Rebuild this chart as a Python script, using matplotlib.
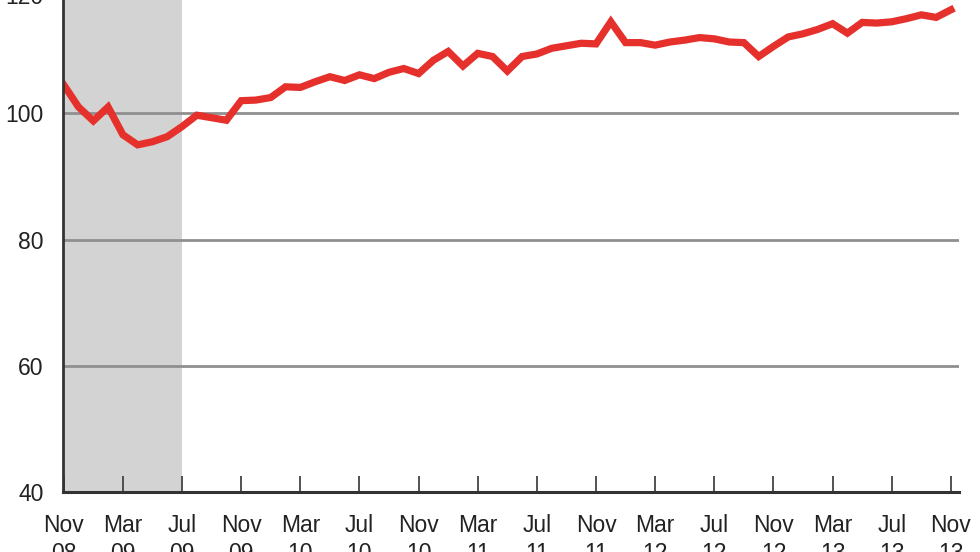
import matplotlib
matplotlib.use("Agg")
import matplotlib.pyplot as plt
import matplotlib.transforms as mtransforms
import numpy as np

# Monthly index values, Nov 2008 .. Nov 2013
values = [104.5, 101.0, 98.8, 101.0, 96.6, 95.0, 95.5, 96.3, 97.9, 99.7,
          99.3, 98.9, 102.0, 102.1, 102.5, 104.2, 104.1, 105.0, 105.8, 105.2,
          106.1, 105.5, 106.5, 107.1, 106.3, 108.4, 109.8, 107.5, 109.5, 109.0,
          106.7, 109.0, 109.4, 110.3, 110.7, 111.1, 111.0, 114.5, 111.2, 111.2,
          110.8, 111.3, 111.6, 112.0, 111.8, 111.3, 111.2, 109.0, 110.6, 112.1,
          112.6, 113.3, 114.2, 112.7, 114.4, 114.3, 114.5, 115.0, 115.6, 115.2,
          116.4]
tick_labels = ["Nov\n08", "Mar\n09", "Jul\n09", "Nov\n09", "Mar\n10", "Jul\n10",
               "Nov\n10", "Mar\n11", "Jul\n11", "Nov\n11", "Mar\n12", "Jul\n12",
               "Nov\n12", "Mar\n13", "Jul\n13", "Nov\n13"]
y_ticks = [40, 60, 80, 100, 120]
recession = (0, 8)  # Nov 08 .. Jul 09

plt.rcParams['font.family'] = ['Liberation Sans', 'DejaVu Sans']

fig = plt.figure(figsize=(9.8, 5.52), dpi=100)
ax = fig.add_axes([0.0643, 0.1087, 0.9143, 0.9147])

months = np.arange(len(values))
ax.axvspan(recession[0], recession[1], color='#d3d3d3', lw=0, zorder=0)
for yv in y_ticks[1:]:
    ax.axhline(yv, color='#8f8f8f', lw=2.0, zorder=1)
ax.plot(months, values, color='#e5302c', lw=5.2, solid_joinstyle='miter', zorder=3)

ax.set_xlim(-0.05, 60.55)
ax.set_ylim(40, 120)
ax.set_xticks(np.arange(0, 61, 4))
ax.set_xticklabels(tick_labels, linespacing=1.25)
ax.set_yticks(y_ticks)
ax.set_yticklabels([str(v) for v in y_ticks])

for s in ['top', 'right']:
    ax.spines[s].set_visible(False)
ax.spines['left'].set_color('#333333')
ax.spines['left'].set_linewidth(2.0)
ax.spines['bottom'].set_color('#333333')
ax.spines['bottom'].set_linewidth(2.2)
ax.spines['left'].set_zorder(4)

ax.tick_params(axis='x', direction='in', length=11.5, width=1.3, color='#444444',
               labelsize=16.5, labelcolor='#222222', pad=16)
ax.tick_params(axis='y', length=0, labelsize=16.5, labelcolor='#222222', pad=14)

# the top (120) label sits a little lower in the reference
top_tick = ax.yaxis.get_major_ticks()[-1]
top_tick.label1.set_transform(top_tick.label1.get_transform() +
                              mtransforms.ScaledTranslation(0, -6 / 72, fig.dpi_scale_trans))

fig.savefig('out.png', dpi=100)
